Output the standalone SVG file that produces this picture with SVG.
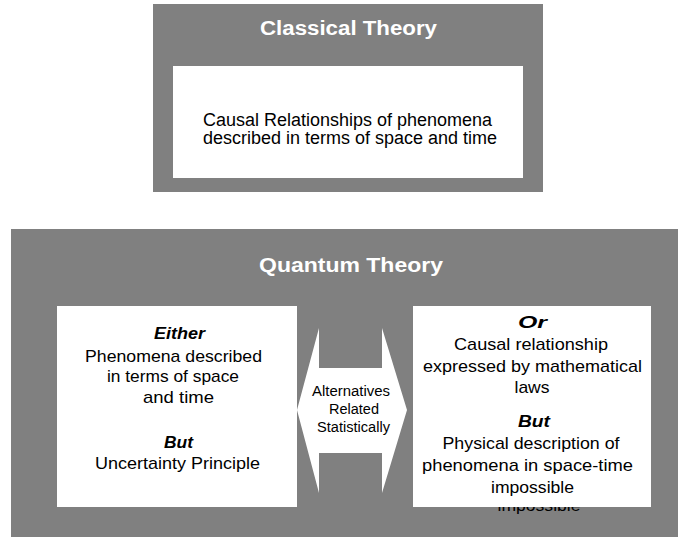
<svg xmlns="http://www.w3.org/2000/svg" width="678" height="537" viewBox="0 0 678 537">
<style>
.frame{fill:#808080}
.box{fill:#ffffff}
.title{font-family:"Liberation Sans",Arial,sans-serif;font-weight:bold;font-size:20px;fill:#ffffff;text-anchor:middle}
.t{font-family:"Liberation Sans",Arial,sans-serif;fill:#000000;text-anchor:middle}
.b{font-weight:bold;font-style:italic}
</style>
<rect width="678" height="537" fill="#ffffff"/>
<g id="classical">
<rect class="frame" x="153" y="4" width="390" height="188"/>
<text class="title" x="348.5" y="35" textLength="177" lengthAdjust="spacingAndGlyphs">Classical Theory</text>
<rect class="box" x="173" y="66" width="350" height="112"/>
<text class="t" font-size="18" x="347.5" y="126" textLength="289" lengthAdjust="spacingAndGlyphs">Causal Relationships of phenomena</text>
<text class="t" font-size="18" x="350" y="144" textLength="294" lengthAdjust="spacingAndGlyphs">described in terms of space and time</text>
</g>
<g id="quantum">
<rect class="frame" x="11" y="229" width="667" height="308"/>
<text class="title" x="351" y="272" textLength="184" lengthAdjust="spacingAndGlyphs">Quantum Theory</text>
</g>
<g id="or">
<text class="t" font-size="17" x="539" y="511" textLength="83" lengthAdjust="spacingAndGlyphs">impossible</text>
<rect class="box" x="413" y="306" width="238" height="201"/>
<text class="t b" font-size="17" x="532.5" y="328" textLength="29" lengthAdjust="spacingAndGlyphs">Or</text>
<text class="t" font-size="17" x="531" y="350" textLength="154" lengthAdjust="spacingAndGlyphs">Causal relationship</text>
<text class="t" font-size="17" x="532.5" y="372" textLength="219" lengthAdjust="spacingAndGlyphs">expressed by mathematical</text>
<text class="t" font-size="17" x="532" y="393" textLength="35" lengthAdjust="spacingAndGlyphs">laws</text>
<text class="t b" font-size="17" x="534" y="427" textLength="32" lengthAdjust="spacingAndGlyphs">But</text>
<text class="t" font-size="17" x="531" y="449" textLength="177" lengthAdjust="spacingAndGlyphs">Physical description of</text>
<text class="t" font-size="17" x="527.5" y="471" textLength="211" lengthAdjust="spacingAndGlyphs">phenomena in space-time</text>
<text class="t" font-size="17" x="532.5" y="493" textLength="83" lengthAdjust="spacingAndGlyphs">impossible</text>
</g>
<g id="either">
<rect class="box" x="57" y="306" width="240" height="201"/>
<text class="t b" font-size="17" x="179.5" y="339" textLength="51" lengthAdjust="spacingAndGlyphs">Either</text>
<text class="t" font-size="17" x="173.5" y="362" textLength="177" lengthAdjust="spacingAndGlyphs">Phenomena described</text>
<text class="t" font-size="17" x="173" y="382" textLength="132" lengthAdjust="spacingAndGlyphs">in terms of space</text>
<text class="t" font-size="17" x="178.5" y="403" textLength="71" lengthAdjust="spacingAndGlyphs">and time</text>
<text class="t b" font-size="17" x="178.5" y="448" textLength="29" lengthAdjust="spacingAndGlyphs">But</text>
<text class="t" font-size="17" x="177.5" y="469" textLength="165" lengthAdjust="spacingAndGlyphs">Uncertainty Principle</text>
</g>
<g id="connectors">
<polygon class="box" points="297,410 319,328 319,368 382,368 382,328 407,410 382,493 382,453 319,453 319,493"/>
<text class="t" font-size="14" x="351" y="396" textLength="78" lengthAdjust="spacingAndGlyphs">Alternatives</text>
<text class="t" font-size="14" x="354" y="414" textLength="50" lengthAdjust="spacingAndGlyphs">Related</text>
<text class="t" font-size="14" x="353.5" y="432" textLength="73" lengthAdjust="spacingAndGlyphs">Statistically</text>
</g>
</svg>
